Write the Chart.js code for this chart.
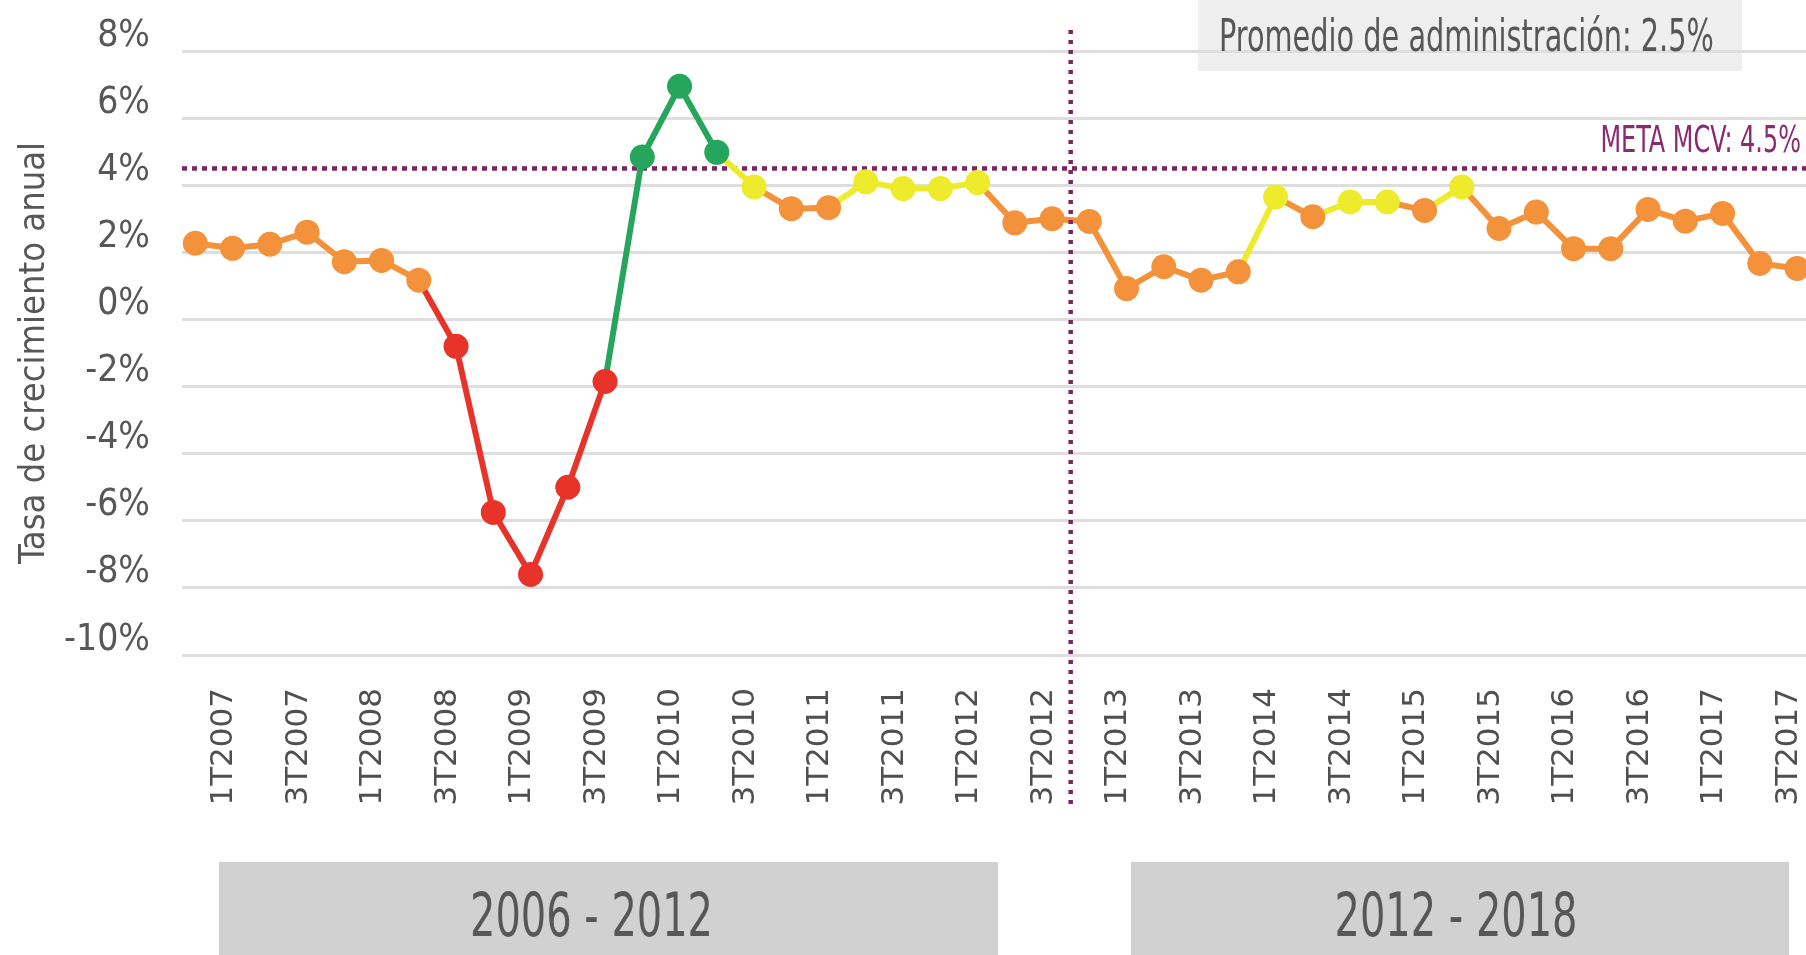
<!DOCTYPE html>
<html lang="es">
<head>
<meta charset="utf-8">
<title>Tasa de crecimiento anual</title>
<script src="https://cdn.jsdelivr.net/npm/chart.js@4.4.1/dist/chart.umd.min.js"></script>
<style>
    html, body { margin: 0; padding: 0; background: #fff; }
    #grafica-crecimiento { display: block; }
</style>
</head>
<body>
<canvas id="grafica-crecimiento" width="1806" height="955"></canvas>
<script>
// Datos: tasa de crecimiento anual por trimestre
const trimestres = [
    '1T2007', '2T2007', '3T2007', '4T2007',
    '1T2008', '2T2008', '3T2008', '4T2008',
    '1T2009', '2T2009', '3T2009', '4T2009',
    '1T2010', '2T2010', '3T2010', '4T2010',
    '1T2011', '2T2011', '3T2011', '4T2011',
    '1T2012', '2T2012', '3T2012', '4T2012',
    '1T2013', '2T2013', '3T2013', '4T2013',
    '1T2014', '2T2014', '3T2014', '4T2014',
    '1T2015', '2T2015', '3T2015', '4T2015',
    '1T2016', '2T2016', '3T2016', '4T2016',
    '1T2017', '2T2017', '3T2017', '4T2017'
];

const crecimiento = [
    2.27, 2.12, 2.24, 2.60,
    1.72, 1.76, 1.17, -0.80,
    -5.75, -7.60, -5.00, -1.85,
    4.84, 6.95, 4.98, 3.95,
    3.30, 3.33, 4.10, 3.90,
    3.90, 4.08, 2.88, 3.00,
    2.92, 0.92, 1.57, 1.17,
    1.42, 3.65, 3.06, 3.50,
    3.50, 3.25, 3.95, 2.71,
    3.20, 2.11, 2.11, 3.28,
    2.93, 3.16, 1.67, 1.52
];

const ticksY = [-10, -8, -6, -4, -2, 0, 2, 4, 6, 8];
const etiquetasX = ['1T', '3T']; // solo se rotulan 1er y 3er trimestre

const metaMCV = 4.5;
const promedioAdministracion = 2.5;
const sexenios = ['2006 - 2012', '2012 - 2018'];
const ultimoTrimestreSexenio = '4T2012';

// Semaforo respecto a la meta
function colorSemaforo(valor) {
    if (valor < 0) return '#e8332a';
    if (valor < metaMCV * 0.75) return '#f3923a';
    if (valor < metaMCV) return '#eeea2c';
    return '#25a65c';
}

const FUENTE = "'DejaVu Sans Condensed', 'Liberation Sans Narrow', 'DejaVu Sans', sans-serif";
const GRIS = '#575757';
const MORADO = '#7c2463';

// texto angosto (la fuente original es condensada)
function textoAngosto(ctx, texto, x, y, escala) {
    ctx.save();
    ctx.translate(x, y);
    ctx.scale(escala, 1);
    ctx.fillText(texto, 0, 0);
    ctx.restore();
}

const decoraciones = {
    id: 'decoraciones',
    beforeDraw(chart) {
        // fondo del recuadro del promedio (la reticula pasa por encima)
        const { ctx } = chart;
        ctx.save();
        ctx.fillStyle = '#efefef';
        ctx.fillRect(1198, 0, 544, 71);
        ctx.restore();
    },
    beforeDatasetsDraw(chart) {
        const { ctx, chartArea, scales: { y } } = chart;
        const yMeta = y.getPixelForValue(metaMCV);
        ctx.save();
        ctx.strokeStyle = MORADO;
        ctx.lineWidth = 4.5;
        ctx.setLineDash([5, 5]);
        ctx.beginPath();
        ctx.moveTo(chartArea.left, yMeta);
        ctx.lineTo(chartArea.right, yMeta);
        ctx.stroke();

        ctx.fillStyle = '#8b2a70';
        ctx.font = `37px ${FUENTE}`;
        ctx.textAlign = 'right';
        textoAngosto(ctx, `META MCV: ${metaMCV}%`, chartArea.right - 5, yMeta - 16, 0.72);
        ctx.restore();
    },
    afterDatasetsDraw(chart) {
        const { ctx, scales: { x } } = chart;
        // cambio de administracion
        const xCambio = x.getPixelForValue(trimestres.indexOf(ultimoTrimestreSexenio) + 0.5);
        ctx.save();
        ctx.strokeStyle = MORADO;
        ctx.lineWidth = 4.5;
        ctx.setLineDash([4, 6]);
        ctx.beginPath();
        ctx.moveTo(xCambio, 30);
        ctx.lineTo(xCambio, 805);
        ctx.stroke();

        // cajas de sexenio
        const cajas = [[219, 998, -17], [1131, 1789, -4]];
        ctx.font = `60px ${FUENTE}`;
        ctx.textAlign = 'center';
        ctx.textBaseline = 'alphabetic';
        cajas.forEach(([x0, x1, dx], i) => {
            ctx.fillStyle = '#d1d1d1';
            ctx.fillRect(x0, 862, x1 - x0, 93);
            ctx.fillStyle = GRIS;
            textoAngosto(ctx, sexenios[i], (x0 + x1) / 2 + dx, 936, 0.74);
        });
        ctx.restore();
    },
    afterDraw(chart) {
        // texto del promedio de la administracion
        const { ctx } = chart;
        ctx.save();
        ctx.fillStyle = GRIS;
        ctx.font = `44px ${FUENTE}`;
        ctx.textAlign = 'left';
        ctx.textBaseline = 'alphabetic';
        textoAngosto(ctx, `Promedio de administración: ${promedioAdministracion}%`, 1219, 51, 0.727);
        ctx.restore();
    }
};

const canvas = document.getElementById('grafica-crecimiento');

new Chart(canvas, {
    type: 'line',
    data: {
        datasets: [{
            label: 'Tasa de crecimiento anual',
            data: crecimiento.map((valor, i) => ({ x: i, y: valor })),
            borderWidth: 6,
            pointRadius: 12.5,
            pointHoverRadius: 12.5,
            pointBorderWidth: 0,
            pointBackgroundColor: crecimiento.map(colorSemaforo),
            segment: {
                borderColor: c => colorSemaforo(c.p1.parsed.y),
            },
            tension: 0,
        }]
    },
    options: {
        responsive: false,
        animation: false,
        layout: {
            autoPadding: false,
            padding: { top: 51, right: 0, bottom: 0, left: 0 }
        },
        plugins: {
            legend: { display: false },
            tooltip: { enabled: false },
        },
        scales: {
            x: {
                type: 'linear',
                min: -0.357,
                max: 43.24,
                grid: { display: false, drawTicks: false },
                border: { display: false },
                afterBuildTicks: axis => {
                    axis.ticks = trimestres
                        .map((t, i) => ({ t, i }))
                        .filter(({ t }) => etiquetasX.includes(t.slice(0, 2)))
                        .map(({ i }) => ({ value: i }));
                },
                afterFit: axis => {
                    axis.height = 300;
                    // que el area de trazo llegue al borde derecho
                    axis.paddingLeft = 0;
                    axis.paddingRight = 0;
                },
                ticks: {
                    autoSkip: false,
                    minRotation: 90,
                    maxRotation: 90,
                    labelOffset: 29,
                    padding: 33,
                    color: '#4f4f4f',
                    font: { family: "'DejaVu Sans', sans-serif", size: 31 },
                    callback: v => trimestres[v],
                }
            },
            y: {
                min: -10,
                max: 8,
                afterBuildTicks: axis => {
                    axis.ticks = ticksY.map(v => ({ value: v }));
                },
                afterFit: axis => {
                    axis.width = 182;
                    axis.paddingTop = 0;
                    axis.paddingBottom = 0;
                },
                grid: { color: '#dedede', lineWidth: 3, drawTicks: false },
                border: { display: false },
                ticks: {
                    padding: 32,
                    labelOffset: -15,
                    color: GRIS,
                    font: { family: FUENTE, size: 37 },
                    callback: v => v + '%',
                },
                title: {
                    display: true,
                    text: 'Tasa de crecimiento anual',
                    color: GRIS,
                    font: { family: FUENTE, size: 36 },
                    padding: { top: 13, bottom: 0 },
                }
            }
        }
    },
    plugins: [decoraciones]
});
</script>
</body>
</html>
